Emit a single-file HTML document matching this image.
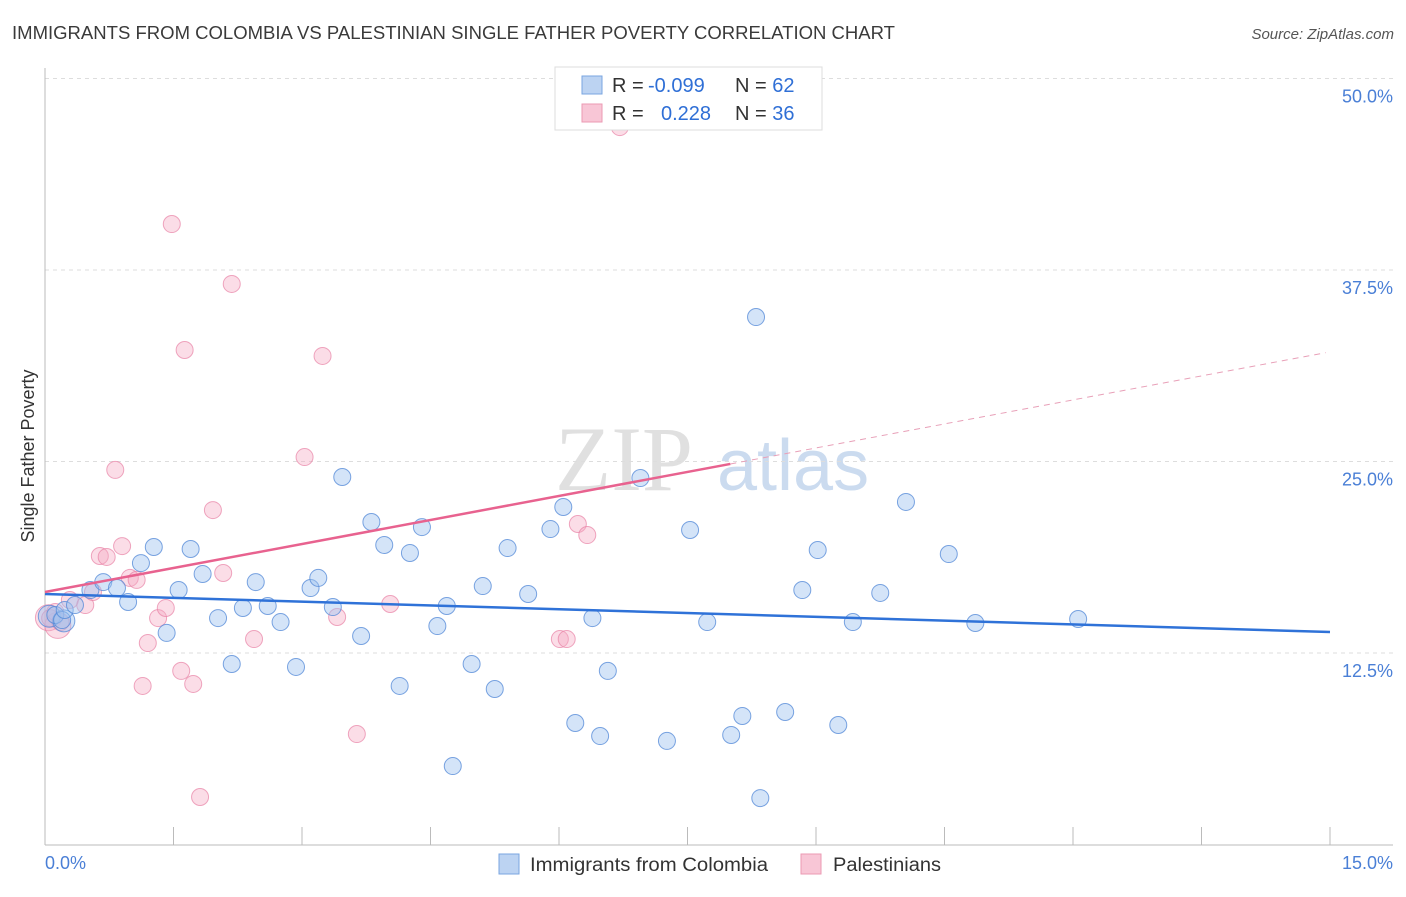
<!DOCTYPE html>
<html><head><meta charset="utf-8"><style>
body{margin:0;background:#fff;font-family:"Liberation Sans",sans-serif;}
</style></head><body>
<svg id="c" width="1406" height="892" xmlns="http://www.w3.org/2000/svg" style="font-family:'Liberation Sans',sans-serif">
<text x="12" y="39" font-size="18" fill="#3a3a3a" textLength="883" lengthAdjust="spacingAndGlyphs">IMMIGRANTS FROM COLOMBIA VS PALESTINIAN SINGLE FATHER POVERTY CORRELATION CHART</text>
<text x="1394" y="39" font-size="15" fill="#555" text-anchor="end" font-style="italic">Source: ZipAtlas.com</text>
<g><text x="555" y="490" font-size="92" font-family="'Liberation Serif',serif" fill="#ccc" opacity="0.6">ZIP</text><text x="717" y="490" font-size="72" fill="#a9c4e6" opacity="0.6">atlas</text></g>
<g id="grid"></g><g id="axes"></g><g id="marks"></g>
<text transform="translate(34,456) rotate(-90)" font-size="18" fill="#333" text-anchor="middle">Single Father Poverty</text>
<text x="45" y="869" font-size="18" fill="#4a7fd6">0.0%</text>
<text x="1393" y="869" font-size="18" fill="#4a7fd6" text-anchor="end">15.0%</text>
<g>
<rect x="555" y="67" width="267" height="63" fill="#fff" stroke="#ddd"/>
<rect x="582" y="76" width="20" height="18" fill="#bcd3f2" stroke="#7aa6e0"/>
<rect x="582" y="104" width="20" height="18" fill="#f8c6d6" stroke="#eb9ab3"/>
<text x="612" y="92" font-size="20" fill="#333">R = <tspan fill="#2f6fd6" x="648">-0.099</tspan></text>
<text x="735" y="92" font-size="20" fill="#333">N = <tspan fill="#2f6fd6">62</tspan></text>
<text x="612" y="120" font-size="20" fill="#333">R = <tspan fill="#2f6fd6" x="661">0.228</tspan></text>
<text x="735" y="120" font-size="20" fill="#333">N = <tspan fill="#2f6fd6">36</tspan></text>
</g>
<g>
<rect x="499" y="854" width="20" height="20" fill="#bcd3f2" stroke="#7aa6e0"/>
<text x="530" y="871" font-size="19" fill="#333" textLength="238" lengthAdjust="spacingAndGlyphs">Immigrants from Colombia</text>
<rect x="801" y="854" width="20" height="20" fill="#f8c6d6" stroke="#eb9ab3"/>
<text x="833" y="871" font-size="19" fill="#333" textLength="108" lengthAdjust="spacingAndGlyphs">Palestinians</text>
</g>
</svg>
<script>
const yTicks=[12.5,25,37.5,50];
const yTickLabels=["12.5%","25.0%","37.5%","50.0%"];
const xTicks=[1.5,3,4.5,6,7.5,9,10.5,12,13.5,15];
const blueX=[0.12,0.20,0.23,0.35,0.53,0.68,0.84,0.97,1.12,1.27,1.42,1.56,1.70,1.84,2.02,2.18,2.31,2.46,2.60,2.75,2.93,3.10,3.19,3.36,3.47,3.69,3.81,3.96,4.14,4.26,4.40,4.58,4.69,4.76,4.98,5.11,5.25,5.40,5.64,5.90,6.05,6.19,6.39,6.48,6.57,6.95,7.26,7.53,7.73,8.01,8.14,8.30,8.35,8.64,8.84,9.02,9.26,9.43,9.75,10.05,10.55,10.86,12.06];
const blueY=[14.98,14.65,15.31,15.63,16.61,17.13,16.74,15.83,18.37,19.42,13.81,16.61,19.29,17.66,14.78,11.78,15.44,17.13,15.57,14.52,11.59,16.74,17.40,15.50,23.99,13.61,21.05,19.55,10.35,19.03,20.72,14.26,15.57,5.12,11.78,16.87,10.15,19.35,16.35,20.59,22.03,7.93,14.78,7.08,11.33,23.92,6.76,20.53,14.52,7.15,8.39,34.43,3.03,8.65,16.61,19.22,7.80,14.52,16.42,22.36,18.96,14.46,14.72];
const blueBigX=[0.05,0.22];
const blueBigY=[14.9,14.6];
const pinkX=[0.06,0.12,0.18,0.29,0.47,0.56,0.64,0.72,0.82,0.90,0.99,1.07,1.14,1.20,1.32,1.41,1.48,1.59,1.63,1.73,1.81,1.96,2.08,2.18,2.44,3.03,3.24,3.41,3.64,4.03,6.01,6.09,6.22,6.33,6.71];
const pinkY=[14.78,15.18,14.52,15.96,15.63,16.48,18.83,18.77,24.45,19.48,17.40,17.27,10.35,13.15,14.78,15.44,40.50,11.33,32.28,10.48,3.10,21.83,17.72,36.59,13.41,25.29,31.89,14.85,7.21,15.70,13.41,13.41,20.92,20.20,46.83];
const pinkBigX=[0.04,0.15];
const pinkBigY=[14.8,14.3];
const blueTrend=[16.35,-0.1653];
const pinkTrend=[16.48,1.045];
const pinkSolidEnd=8.0, pinkDashEnd=14.95;
const X=v=>45+v/15*1285, Y=v=>653-(v-12.5)*15.32;
const NS="http://www.w3.org/2000/svg";
function mk(t,a,p){const e=document.createElementNS(NS,t);for(const k in a)e.setAttribute(k,a[k]);p.appendChild(e);return e;}
const grid=document.getElementById('grid'),axes=document.getElementById('axes'),marks=document.getElementById('marks');
yTicks.forEach((t,i)=>{const l=mk('line',{x1:45,x2:1393,y1:Y(t),y2:Y(t),stroke:'#ddd','stroke-dasharray':'4,4'},grid);


const tx=mk('text',{x:1393,y:Y(t)+24,'font-size':18,fill:'#4a7fd6','text-anchor':'end'},grid);tx.textContent=yTickLabels[i];

});
const ya=mk('line',{x1:45,x2:45,y1:68,y2:845,stroke:'#bbb'},axes);


const xa=mk('line',{x1:45,x2:1393,y1:845,y2:845,stroke:'#bbb'},axes);


xTicks.forEach(t=>{const l=mk('line',{x1:X(t),x2:X(t),y1:827,y2:845,stroke:'#bbb'},axes);

});
const pf='rgba(244,170,195,0.4)',ps='rgba(232,130,165,0.7)',bf='rgba(160,195,240,0.45)',bs='rgba(80,135,215,0.75)';
pinkBigX.forEach((x,i)=>{const c=mk('circle',{cx:X(x),cy:Y(pinkBigY[i]),r:13,fill:pf,stroke:ps},marks);

});
pinkX.forEach((x,i)=>{const c=mk('circle',{cx:X(x),cy:Y(pinkY[i]),r:8.5,fill:pf,stroke:ps,'stroke-width':1},marks);

});
blueBigX.forEach((x,i)=>{const c=mk('circle',{cx:X(x),cy:Y(blueBigY[i]),r:11,fill:bf,stroke:bs},marks);

});
blueX.forEach((x,i)=>{const c=mk('circle',{cx:X(x),cy:Y(blueY[i]),r:8.5,fill:bf,stroke:bs,'stroke-width':1},marks);

});
const bl=mk('line',{x1:X(0),y1:Y(blueTrend[0]),x2:X(15),y2:Y(blueTrend[0]+blueTrend[1]*15),stroke:'#2f72d8','stroke-width':2.5},marks);


const pl=mk('line',{x1:X(0),y1:Y(pinkTrend[0]),x2:X(pinkSolidEnd),y2:Y(pinkTrend[0]+pinkTrend[1]*pinkSolidEnd),stroke:'#e8628f','stroke-width':2.5},marks);


const pd=mk('line',{x1:X(pinkSolidEnd),y1:Y(pinkTrend[0]+pinkTrend[1]*pinkSolidEnd),x2:X(pinkDashEnd),y2:Y(pinkTrend[0]+pinkTrend[1]*pinkDashEnd),stroke:'#e8a0b8','stroke-width':1,'stroke-dasharray':'6,5'},marks);


</script>
</body></html>
